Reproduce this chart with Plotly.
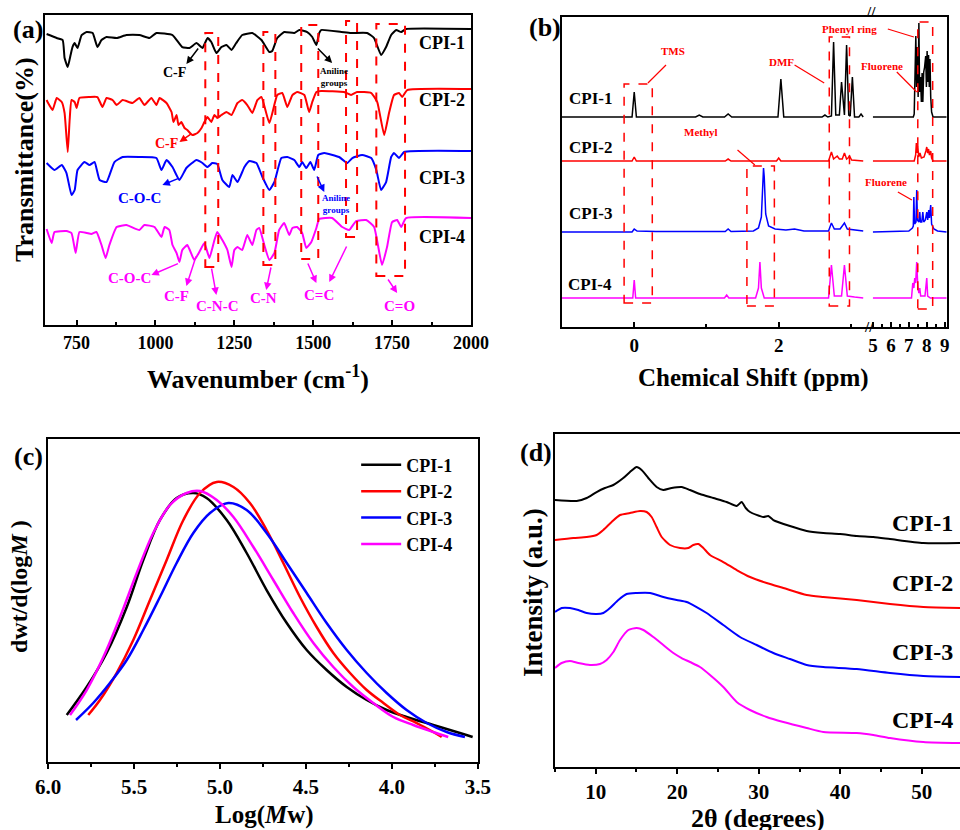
import plotly.graph_objects as go

SERIF = "Liberation Serif"
SAMPLES = ["CPI-1", "CPI-2", "CPI-3", "CPI-4"]
COLORS = ["#000000", "#ff0000", "#0000ff", "#ff00ff"]

# ---------------- (a) FTIR spectra (stacked, arbitrary transmittance units) ----------------
FTIR_WN_1 = [655, 687, 706, 712, 722, 731, 737, 744, 753, 766, 782, 801, 816, 829, 845, 877, 908, 949, 981, 1003,
             1054, 1085, 1108, 1130, 1149, 1165, 1177, 1193, 1209, 1225, 1241, 1256, 1275, 1307, 1336, 1361, 1370,
             1386, 1408, 1440, 1456, 1481, 1497, 1510, 1519, 1525, 1589, 1620, 1671, 1693, 1715, 1731, 1747, 1763,
             1779, 1794, 2000]
FTIR_T_1 = [291, 287, 285, 267, 258, 270, 278, 282, 277, 290, 293, 292, 278, 285, 288, 287, 290, 290, 287, 292,
            290, 278, 277, 282, 277, 287, 283, 272, 278, 280, 275, 282, 290, 292, 285, 273, 274,
            287, 293, 292, 295, 293, 288, 280, 292, 295, 293, 292, 292, 287, 270, 278, 290, 295,
            293, 296, 296]

FTIR_WN_2 = [655, 658, 674, 687, 703, 712, 722, 728, 734, 744, 750, 759, 791, 816, 832, 845, 864, 877, 896, 927,
             949, 965, 987, 1003, 1013, 1035, 1051, 1057, 1067, 1073, 1082, 1092, 1101, 1117, 1133, 1146, 1155,
             1165, 1177, 1187, 1196, 1209, 1225, 1241, 1260, 1275, 1291, 1307, 1323, 1336, 1361, 1386, 1402,
             1418, 1434, 1449, 1472, 1487, 1497, 1510, 1525, 1598, 1620, 1639, 1684, 1703, 1725, 1741, 1756,
             1772, 1782, 1798, 2000]
FTIR_T_2 = [225, 223, 215, 227, 223, 212, 173, 205, 225, 223, 217, 227, 228, 228, 218, 227, 225, 220, 225, 222,
            227, 220, 227, 220, 227, 222, 213, 203, 210, 200, 203, 197, 195, 190, 192, 197, 203,
            208, 203, 210, 207, 210, 213, 210, 222, 225, 220, 212, 225, 228, 202, 230, 232,
            218, 230, 233, 230, 213, 223, 233, 234, 233, 230, 233, 232, 223, 190, 213, 230,
            232, 228, 235, 236]

FTIR_WN_3 = [655, 680, 703, 718, 734, 744, 753, 775, 791, 807, 823, 845, 870, 896, 949, 1003, 1019, 1035, 1054,
             1076, 1098, 1130, 1149, 1165, 1180, 1196, 1212, 1234, 1244, 1260, 1282, 1298, 1320, 1339, 1361,
             1377, 1399, 1418, 1440, 1456, 1465, 1478, 1491, 1503, 1516, 1535, 1582, 1608, 1624, 1655, 1684,
             1700, 1715, 1731, 1747, 1756, 1772, 1788, 2000]
FTIR_T_3 = [162, 155, 160, 152, 130, 135, 155, 163, 160, 163, 145, 143, 163, 168, 168, 167, 155, 165, 158,
            145, 157, 165, 162, 158, 162, 161, 145, 138, 150, 143, 158, 164, 162, 148, 135,
            143, 167, 168, 165, 158, 163, 157, 163, 155, 170, 172, 168, 162, 167, 170, 167,
            155, 135, 143, 168, 172, 167, 173, 174]

FTIR_WN_4 = [655, 671, 680, 718, 734, 747, 759, 782, 797, 813, 829, 842, 854, 877, 908, 949, 965, 997, 1019,
             1029, 1044, 1054, 1067, 1076, 1085, 1101, 1123, 1139, 1155, 1171, 1187, 1196, 1212, 1228, 1241,
             1250, 1260, 1275, 1291, 1307, 1320, 1329, 1345, 1361, 1377, 1392, 1408, 1424, 1434, 1449, 1465,
             1478, 1494, 1510, 1519, 1560, 1592, 1614, 1636, 1668, 1693, 1718, 1734, 1750, 1766, 1779, 1794, 2000]
FTIR_T_4 = [96, 82, 93, 94, 92, 72, 93, 92, 91, 93, 80, 67, 80, 98, 100, 95, 100, 98, 88,
            98, 95, 80, 72, 63, 75, 80, 65, 73, 82, 67, 85, 93, 85, 75, 58,
            75, 78, 75, 90, 80, 95, 97, 80, 65, 72, 95, 102, 90, 97, 98, 92,
            77, 83, 97, 106, 107, 98, 95, 104, 105, 98, 60, 78, 103, 105, 98, 107, 107]

FTIR_WN = [FTIR_WN_1, FTIR_WN_2, FTIR_WN_3, FTIR_WN_4]
FTIR_T = [FTIR_T_1, FTIR_T_2, FTIR_T_3, FTIR_T_4]
FTIR_TICKS = [750, 1000, 1250, 1500, 1750, 2000]

# characteristic bands highlighted with dashed boxes (cm-1 limits, vertical extent)
BAND_LO = [1158, 1342, 1462, 1604, 1700]
BAND_HI = [1199, 1380, 1516, 1639, 1791]
BAND_TOP = [292, 293, 300, 304, 301]
BAND_BOT = [58, 60, 66, 88, 49]

# ---------------- (b) 1H NMR (low-field and high-field segments) ----------------
NMR_OFFSET = [210, 166, 95, 29]

NMR_LO_PPM_1 = [-1.0, -0.03, 0.0, 0.03, 0.85, 0.9, 0.95, 1.25, 1.3, 1.35, 1.99, 2.03, 2.07, 2.6, 2.64, 2.68,
                2.73, 2.76, 2.79, 2.84, 2.87, 2.9, 2.91, 2.94, 2.97, 2.99, 3.02, 3.05, 3.11, 3.14, 3.17]
NMR_LO_H_1 = [0, 0, 25, 0, 0, 2, 0, 0, 3, 0, 0, 38, 0, 0, 2, 0,
              1, 75, 2, 2, 35, 2, 2, 72, 2, 1, 40, 0, 0, 3, 0]
NMR_HI_PPM_1 = [5.0, 7.25, 7.3, 7.35, 7.39, 7.43, 7.47, 7.52, 7.56, 7.6, 7.65, 7.7, 7.74, 7.78, 7.83, 7.88,
                7.94, 7.98, 8.02, 8.06, 8.1, 8.14, 8.18, 8.22, 8.27, 8.35, 9.1]
NMR_HI_H_1 = [0, 0, 3, 60, 81, 30, 70, 20, 94, 25, 40, 15, 44, 15, 45, 50,
              61, 30, 66, 35, 62, 30, 58, 20, 5, 0, 0]

NMR_LO_PPM_2 = [-1.0, -0.03, 0.0, 0.03, 1.26, 1.3, 1.34, 1.97, 2.0, 2.03, 2.69, 2.73, 2.76, 2.78, 2.81, 2.84,
                2.88, 2.91, 2.94, 2.96, 2.98, 3.01, 3.17]
NMR_LO_H_2 = [0, 0, 4, 0, 0, 2, 0, 0, 3, 0, 0, 9, 2, 3, 5, 2,
              2, 8, 2, 3, 5, 1, 0]
NMR_HI_PPM_2 = [5.0, 7.3, 7.38, 7.42, 7.46, 7.5, 7.55, 7.62, 7.7, 7.85, 7.95, 8.0, 8.05, 8.1, 8.15, 8.22,
                8.27, 8.35, 9.1]
NMR_HI_H_2 = [0, 0, 6, 18, 8, 15, 4, 8, 3, 4, 10, 14, 8, 12, 6, 10,
              3, 0, 0]

NMR_LO_PPM_3 = [-1.0, -0.03, 0.0, 0.04, 0.3, 1.26, 1.3, 1.34, 1.65, 1.72, 1.76, 1.78, 1.79, 1.8, 1.82, 1.86,
                1.95, 2.1, 2.22, 2.35, 2.69, 2.73, 2.77, 2.85, 2.91, 2.95, 3.05, 3.17]
NMR_LO_H_3 = [0, 0, 3, 1, 0.5, 0.5, 3, 0.5, 1, 4, 15, 50, 64, 55, 18, 6,
              3, 2, 3, 1, 1, 9, 3, 3, 9, 3, 2, 1]
NMR_HI_PPM_3 = [5.0, 7.0, 7.2, 7.25, 7.28, 7.32, 7.4, 7.44, 7.48, 7.56, 7.61, 7.65, 7.72, 7.78, 7.83, 7.92,
                8.0, 8.05, 8.11, 8.15, 8.22, 8.27, 8.4, 8.6, 9.1]
NMR_HI_H_3 = [0, 1, 4, 6, 35, 8, 10, 42, 12, 10, 20, 10, 10, 20, 10, 12,
              20, 12, 22, 14, 27, 8, 3, 1, 0]

NMR_LO_PPM_4 = [-1.0, -0.02, 0.0, 0.02, 1.25, 1.28, 1.31, 1.68, 1.72, 1.74, 1.76, 1.8, 2.69, 2.73, 2.77, 2.87,
                2.91, 2.95, 3.05, 3.17]
NMR_LO_H_4 = [0, 0, 18, 0, 0, 3, 0, 0, 10, 36, 10, 0, 0, 33, 2, 2,
              33, 2, 1, 0]
NMR_HI_PPM_4 = [5.0, 7.15, 7.22, 7.28, 7.33, 7.38, 7.44, 7.5, 7.56, 7.61, 7.66, 7.9, 8.0, 8.05, 8.2, 9.1]
NMR_HI_H_4 = [0, 0, 15, 10, 20, 15, 36, 12, 5, 10, 2, 2, 20, 2, 0, 0]

NMR_LO_PPM = [NMR_LO_PPM_1, NMR_LO_PPM_2, NMR_LO_PPM_3, NMR_LO_PPM_4]
NMR_LO_H = [NMR_LO_H_1, NMR_LO_H_2, NMR_LO_H_3, NMR_LO_H_4]
NMR_HI_PPM = [NMR_HI_PPM_1, NMR_HI_PPM_2, NMR_HI_PPM_3, NMR_HI_PPM_4]
NMR_HI_H = [NMR_HI_H_1, NMR_HI_H_2, NMR_HI_H_3, NMR_HI_H_4]

# ---------------- (c) GPC molecular weight distribution ----------------
GPC_LOGM_1 = [5.891, 5.775, 5.659, 5.542, 5.446, 5.349, 5.252, 5.155, 5.078, 4.961, 4.845, 4.729, 4.612, 4.496,
              4.380, 4.263, 4.147, 4.031, 3.915, 3.760, 3.605, 3.531]
GPC_W_1 = [47, 75, 109, 155, 202, 242, 264, 269, 264, 242, 209, 172, 139, 112, 92, 75, 62, 52, 45, 37, 29, 25]
GPC_LOGM_2 = [5.766, 5.698, 5.601, 5.504, 5.407, 5.310, 5.213, 5.116, 5.019, 4.922, 4.826, 4.729, 4.632, 4.535,
              4.438, 4.341, 4.244, 4.147, 4.050, 3.953, 3.856, 3.760, 3.711]
GPC_W_2 = [47, 62, 89, 122, 162, 202, 242, 269, 280, 275, 259, 232, 199, 165, 135, 109, 89, 72, 59, 47, 39, 30, 25]
GPC_LOGM_3 = [5.837, 5.737, 5.640, 5.542, 5.446, 5.349, 5.252, 5.155, 5.058, 4.952, 4.845, 4.729, 4.612, 4.496,
              4.380, 4.263, 4.147, 4.031, 3.915, 3.798, 3.682, 3.576]
GPC_W_3 = [42, 59, 79, 102, 132, 165, 199, 229, 249, 259, 252, 229, 199, 169, 139, 112, 89, 69, 52, 39, 30, 25]
GPC_LOGM_4 = [5.872, 5.775, 5.678, 5.581, 5.484, 5.388, 5.291, 5.194, 5.116, 5.019, 4.922, 4.806, 4.690, 4.574,
              4.457, 4.341, 4.225, 4.109, 3.992, 3.876, 3.760, 3.673]
GPC_W_4 = [47, 72, 105, 145, 189, 229, 257, 269, 271, 262, 245, 215, 182, 149, 119, 95, 75, 59, 45, 37, 30, 25]
GPC_LOGM = [GPC_LOGM_1, GPC_LOGM_2, GPC_LOGM_3, GPC_LOGM_4]
GPC_W = [GPC_W_1, GPC_W_2, GPC_W_3, GPC_W_4]
GPC_TICKS = [6.0, 5.5, 5.0, 4.5, 4.0, 3.5]

# ---------------- (d) WAXD patterns (stacked) ----------------
XRD_2T_1 = [5.0, 7.66, 8.89, 10.11, 11.13, 12.16, 13.38, 14.2, 15.02, 15.63, 16.45, 17.47, 18.29, 19.31, 20.54,
            21.56, 22.79, 24.43, 26.06, 27.29, 27.9, 28.4, 28.93, 30.56, 31.17, 31.79, 33.83, 35.88, 37.92,
            39.97, 42.02, 44.06, 46.1, 50.19, 54.69]
XRD_I_1 = [267, 266, 269, 275, 279, 282, 289, 295, 300, 297, 289, 280, 277, 279, 280,
           277, 273, 269, 265, 261, 265, 259, 255, 250, 251, 247, 241, 236, 234,
           233, 231, 230, 228, 224, 224]
XRD_2T_2 = [5.0, 7.25, 8.89, 10.11, 10.93, 11.95, 12.98, 14.2, 15.43, 16.25, 16.86, 17.47, 18.09, 19.11, 20.34,
            21.36, 21.97, 22.59, 23.2, 24.02, 25.65, 27.29, 28.93, 30.97, 33.02, 35.88, 37.92, 42.02, 46.1,
            50.19, 54.69]
XRD_I_2 = [227, 229, 230, 232, 237, 245, 252, 254, 256, 255, 250, 240, 230, 222, 219,
           219, 222, 223, 219, 212, 205, 197, 190, 184, 179, 172, 170, 167, 163,
           160, 159]
XRD_2T_3 = [5.0, 5.82, 6.84, 7.86, 8.89, 10.11, 10.93, 11.75, 12.77, 13.79, 15.02, 16.66, 18.29, 19.93, 21.16,
            22.38, 23.61, 25.65, 27.7, 29.74, 31.79, 33.83, 35.88, 37.92, 42.02, 46.1, 50.19, 54.69]
XRD_I_3 = [155, 159, 159, 157, 154, 153, 154, 159, 167, 173, 174, 174, 170, 167, 165,
           160, 154, 142, 130, 122, 114, 108, 102, 100, 98, 94, 91, 90]
XRD_2T_4 = [5.0, 5.82, 6.84, 7.86, 9.29, 10.52, 11.34, 12.16, 12.98, 14.0, 15.02, 15.84, 17.07, 18.29, 19.52,
            20.54, 21.56, 22.79, 24.02, 25.65, 27.29, 28.93, 30.97, 33.02, 35.88, 37.92, 42.02, 44.06, 46.1,
            50.19, 54.69]
XRD_I_4 = [99, 104, 106, 104, 102, 103, 107, 115, 127, 137, 139, 137, 130, 122, 114,
           109, 105, 100, 92, 80, 65, 57, 50, 45, 39, 35, 34, 32, 29,
           25, 24]
XRD_2T = [XRD_2T_1, XRD_2T_2, XRD_2T_3, XRD_2T_4]
XRD_I = [XRD_I_1, XRD_I_2, XRD_I_3, XRD_I_4]
XRD_TICKS = [10, 20, 30, 40, 50]


def bold(size, color="black"):
    return dict(family=SERIF, size=size, color=color, weight="bold")


fig = go.Figure()

# (a)
for i in range(4):
    fig.add_trace(go.Scatter(x=FTIR_WN[i], y=FTIR_T[i], mode="lines", xaxis="x", yaxis="y",
                             line=dict(color=COLORS[i], width=2, shape="spline", smoothing=0.4),
                             showlegend=False, hoverinfo="skip"))

# (b) two axis segments
for i in range(4):
    lo_y = [h + NMR_OFFSET[i] for h in NMR_LO_H[i]]
    hi_y = [h + NMR_OFFSET[i] for h in NMR_HI_H[i]]
    fig.add_trace(go.Scatter(x=NMR_LO_PPM[i], y=lo_y, mode="lines", xaxis="x2", yaxis="y2",
                             line=dict(color=COLORS[i], width=1.5), showlegend=False, hoverinfo="skip"))
    fig.add_trace(go.Scatter(x=NMR_HI_PPM[i], y=hi_y, mode="lines", xaxis="x3", yaxis="y3",
                             line=dict(color=COLORS[i], width=1.5), showlegend=False, hoverinfo="skip"))

# (c)
for i in range(4):
    fig.add_trace(go.Scatter(x=GPC_LOGM[i], y=GPC_W[i], mode="lines", xaxis="x4", yaxis="y4", name=SAMPLES[i],
                             line=dict(color=COLORS[i], width=2.5, shape="spline", smoothing=1.0),
                             showlegend=True))

# (d)
for i in range(4):
    fig.add_trace(go.Scatter(x=XRD_2T[i], y=XRD_I[i], mode="lines", xaxis="x5", yaxis="y5",
                             line=dict(color=COLORS[i], width=2, shape="spline", smoothing=0.6),
                             showlegend=False, hoverinfo="skip"))


def xax(domain, rng, anchor, ticks, tickvals=None, size=18, **kw):
    d = dict(domain=domain, range=rng, anchor=anchor, showgrid=False, zeroline=False, automargin=False,
             showline=True, linecolor="black", linewidth=2, mirror=True,
             ticks=ticks, ticklen=5, tickwidth=1.5, tickcolor="black",
             tickfont=bold(size), fixedrange=True)
    if tickvals is not None:
        d["tickvals"] = tickvals
    d.update(kw)
    return d


def yax(domain, rng, anchor, **kw):
    d = dict(domain=domain, range=rng, anchor=anchor, showgrid=False, zeroline=False, automargin=False,
             showline=True, linecolor="black", linewidth=2, mirror=True,
             showticklabels=False, ticks="", fixedrange=True)
    d.update(kw)
    return d


layout_axes = dict(
    xaxis=xax([0.0469, 0.4906], [650, 2000], "y", "inside", FTIR_TICKS, 18,
              minor=dict(dtick=125, tick0=750, ticks="inside", ticklen=3, tickcolor="black")),
    yaxis=yax([0.6084, 0.9819], [0, 310], "x"),
    xaxis2=xax([0.5854, 0.9052], [-1, 3.25], "y2", "inside", [0, 2], 19,
               minor=dict(dtick=1, tick0=0, ticks="inside", ticklen=3, tickcolor="black")),
    yaxis2=yax([0.606, 0.9795], [0, 310], "x2", mirror=False),
    xaxis3=xax([0.9052, 0.9865], [4.78, 9.13], "y3", "inside", [5, 6, 7, 8, 9], 19,
               minor=dict(dtick=0.5, tick0=5, ticks="inside", ticklen=3, tickcolor="black")),
    yaxis3=yax([0.606, 0.9795], [0, 310], "x3", mirror=False, side="right"),
    xaxis4=xax([0.05, 0.4979], [6.0, 3.5], "y4", "outside", GPC_TICKS, 21, tickformat=".1f",
               minor=dict(dtick=0.25, tick0=3.5, ticks="outside", ticklen=3, tickcolor="black")),
    yaxis4=yax([0.0819, 0.4711], [0, 323], "x4"),
    xaxis5=xax([0.5781, 1.0], [5, 54.69], "y5", "outside", XRD_TICKS, 21,
               minor=dict(dtick=5, tick0=5, ticks="outside", ticklen=3, tickcolor="black")),
    yaxis5=yax([0.0759, 0.4771], [0, 333], "x5", mirror=False),
)

annotations = []


def paper_text(text, x, y, size, angle=0, color="black"):
    annotations.append(dict(text=text, x=x, y=y, xref="paper", yref="paper", showarrow=False,
                            xanchor="center", yanchor="middle", textangle=angle, font=bold(size, color)))


def data_text(text, x, y, xref, yref, size, color):
    annotations.append(dict(text=text, x=x, y=y, xref=xref, yref=yref, showarrow=False,
                            xanchor="center", yanchor="middle", font=bold(size, color)))


def arrow(tail, head, xref, yref, color):
    annotations.append(dict(text="", x=head[0], y=head[1], ax=tail[0], ay=tail[1], xref=xref, yref=yref,
                            axref=xref, ayref=yref, showarrow=True, arrowhead=2, arrowsize=1,
                            arrowwidth=1.5, arrowcolor=color, standoff=0, startstandoff=0))


# panel letters
paper_text("(a)", 0.0292, 0.965, 26)
paper_text("(b)", 0.5677, 0.9663, 26)
paper_text("(c)", 0.0292, 0.4506, 26)
paper_text("(d)", 0.5583, 0.4554, 26)

# axis titles
paper_text("Transmittance(%)", 0.0250, 0.8072, 26, -90)
paper_text("Wavenumber (cm<sup>-1</sup>)", 0.2688, 0.5446, 26)
paper_text("Chemical Shift (ppm)", 0.7854, 0.5446, 25)
paper_text("dwt/d(log<i>M</i> )", 0.0198, 0.2928, 24, -90)
paper_text("Log(<i>M</i>w)", 0.2760, 0.0181, 25)
paper_text("Intensity (a.u.)", 0.5552, 0.2867, 27, -90)
paper_text("2θ (degrees)", 0.7896, 0.0135, 26)

# axis break marks on the chemical shift axis
paper_text("//", 0.9075, 0.985, 15)
paper_text("//", 0.9052, 0.606, 15)

# (a) sample labels and band assignments
for name, yv in zip(SAMPLES, [282, 225, 147, 88]):
    data_text(name, 1908, yv, "x", "y", 18, "black")

RED, BLUE, MAG = COLORS[1], COLORS[2], COLORS[3]
data_text("C-F", 1060, 253, "x", "y", 14, "black")
arrow((1139, 278), (1098, 261), "x", "y", "black")
data_text("Aniline<br>groups", 1567, 248, "x", "y", 9, "black")
arrow((1510, 278), (1560, 262), "x", "y", "black")
data_text("C-F", 1035, 182, "x", "y", 14, RED)
arrow((1117, 192), (1076, 183), "x", "y", RED)
data_text("C-O-C", 949, 127, "x", "y", 15, BLUE)
arrow((1076, 147), (1022, 140), "x", "y", BLUE)
data_text("Aniline<br>groups", 1573, 121, "x", "y", 9, BLUE)
arrow((1510, 150), (1535, 133), "x", "y", BLUE)
data_text("C-O-C", 918, 47, "x", "y", 15, MAG)
arrow((1076, 62), (987, 50), "x", "y", MAG)
data_text("C-F", 1067, 29, "x", "y", 15, MAG)
arrow((1130, 70), (1098, 39), "x", "y", MAG)
data_text("C-N-C", 1196, 19, "x", "y", 15, MAG)
arrow((1177, 58), (1193, 30), "x", "y", MAG)
data_text("C-N", 1342, 27, "x", "y", 15, MAG)
arrow((1367, 59), (1351, 35), "x", "y", MAG)
data_text("C=C", 1519, 30, "x", "y", 15, MAG)
arrow((1481, 63), (1510, 42), "x", "y", MAG)
arrow((1608, 80), (1551, 43), "x", "y", MAG)
data_text("C=O", 1772, 19, "x", "y", 15, MAG)
arrow((1734, 47), (1766, 32), "x", "y", MAG)

# (b) sample labels and peak assignments
for name, yv in zip(SAMPLES, [229, 180, 114, 43]):
    data_text(name, -0.61, yv, "x2", "y2", 17, "black")
data_text("TMS", 0.54, 276, "x2", "y2", 11, RED)
data_text("DMF", 2.04, 265, "x2", "y2", 11, RED)
data_text("Methyl", 0.93, 195, "x2", "y2", 11, RED)
data_text("Phenyl ring", 2.98, 298, "x2", "y2", 11, RED)
data_text("Fluorene", 5.5, 261, "x3", "y3", 11, RED)
data_text("Fluorene", 5.72, 145, "x3", "y3", 11, RED)

# (d) sample labels
for name, yv in zip(SAMPLES, [244, 184, 115, 47]):
    data_text(name, 50.03, yv, "x5", "y5", 24, "black")

shapes = []
for lo, hi, top, bot in zip(BAND_LO, BAND_HI, BAND_TOP, BAND_BOT):
    shapes.append(dict(type="rect", xref="x", yref="y", x0=lo, x1=hi, y0=bot, y1=top,
                       line=dict(color=RED, width=2, dash="dash")))

# dashed boxes around NMR assignments
NMR_BOXES = [("x2", "y2", -0.14, 0.25, 24, 243), ("x2", "y2", 1.56, 1.94, 21, 161),
             ("x2", "y2", 2.70, 2.98, 21, 290), ("x3", "y3", 7.5, 8.33, 18, 305)]
for xr, yr, x0, x1, y0, y1 in NMR_BOXES:
    shapes.append(dict(type="rect", xref=xr, yref=yr, x0=x0, x1=x1, y0=y0, y1=y1,
                       line=dict(color=RED, width=1.5, dash="dash")))

# leader lines for NMR labels
NMR_LEADERS = [("x2", "y2", 0.19, 244, 0.44, 262), ("x2", "y2", 2.22, 262, 2.63, 244),
               ("x3", "y3", 5.83, 298, 7.28, 290), ("x3", "y3", 6.33, 255, 7.44, 235),
               ("x2", "y2", 1.43, 177, 1.67, 162), ("x3", "y3", 6.39, 135, 7.17, 127)]
for xr, yr, x0, y0, x1, y1 in NMR_LEADERS:
    shapes.append(dict(type="line", xref=xr, yref=yr, x0=x0, y0=y0, x1=x1, y1=y1,
                       line=dict(color=RED, width=1.2)))

fig.update_layout(
    template="none",
    width=960, height=830,
    margin=dict(l=0, r=0, t=0, b=0),
    paper_bgcolor="white", plot_bgcolor="white",
    annotations=annotations, shapes=shapes,
    legend=dict(x=0.371, y=0.462, xanchor="left", yanchor="top", bgcolor="rgba(0,0,0,0)",
                font=bold(18), tracegroupgap=0, itemwidth=40),
    **layout_axes,
)

fig.write_html("out.html")
